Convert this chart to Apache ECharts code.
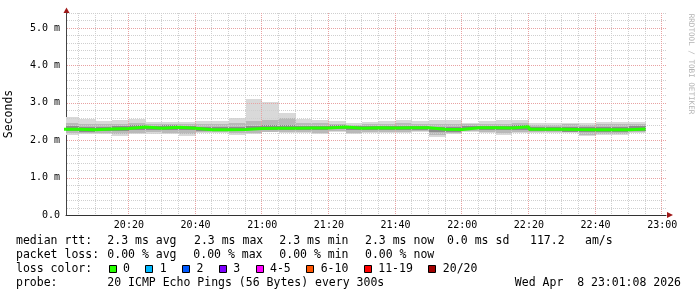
<!DOCTYPE html>
<html><head><meta charset="utf-8">
<script src="https://cdn.jsdelivr.net/npm/echarts@6/dist/echarts.min.js"></script>
<style>html,body{margin:0;padding:0;background:#fff}#c{width:697px;height:297px}</style>
</head><body><div id="c"></div>
<script>
// ---------- data ----------
const graphStart = '20:01:08';
const graphEnd = '23:01:08';
const stepMinutes = 5;
const intervalEnds = ['20:05','20:10','20:15','20:20','20:25','20:30','20:35','20:40','20:45','20:50','20:55',
  '21:00','21:05','21:10','21:15','21:20','21:25','21:30','21:35','21:40','21:45','21:50','21:55',
  '22:00','22:05','22:10','22:15','22:20','22:25','22:30','22:35','22:40','22:45','22:50','22:55'];
// values in milliseconds
const medianRtt = [2.294,2.278,2.299,2.313,2.353,2.321,2.348,2.318,2.281,2.281,2.286,2.313,2.318,2.321,2.326,2.326,2.353,2.318,2.334,2.326,2.334,2.334,2.294,2.286,2.334,2.331,2.326,2.358,2.294,2.294,2.286,2.281,2.278,2.278,2.299];
const smokeMax = [2.620,2.559,2.513,2.548,2.567,2.495,2.487,2.495,2.513,2.513,2.602,3.102,3.029,2.735,2.567,2.540,2.505,2.452,2.495,2.505,2.540,2.505,2.540,2.540,2.468,2.513,2.540,2.540,2.468,2.468,2.468,2.468,2.487,2.487,2.487];
const smokeUpMid = [2.45,2.42,2.42,2.44,2.47,2.43,2.44,2.43,2.42,2.42,2.45,2.50,2.54,2.58,2.46,2.45,2.44,2.41,2.43,2.44,2.45,2.43,2.44,2.44,2.42,2.43,2.44,2.46,2.41,2.41,2.42,2.41,2.42,2.42,2.43];
const smokeUpIn = [2.37,2.34,2.36,2.38,2.41,2.38,2.40,2.38,2.34,2.34,2.36,2.37,2.40,2.40,2.38,2.38,2.40,2.37,2.39,2.38,2.38,2.38,2.35,2.35,2.38,2.39,2.38,2.40,2.35,2.35,2.35,2.34,2.34,2.34,2.37];
const smokeLoIn = [2.24,2.22,2.25,2.25,2.28,2.27,2.28,2.26,2.24,2.24,2.24,2.26,2.27,2.27,2.27,2.27,2.30,2.26,2.28,2.27,2.28,2.28,2.22,2.23,2.29,2.27,2.26,2.28,2.25,2.25,2.22,2.21,2.21,2.21,2.25];
const smokeLoMid = [2.18,2.19,2.19,2.17,2.20,2.21,2.20,2.17,2.21,2.21,2.18,2.20,2.23,2.23,2.21,2.19,2.24,2.19,2.21,2.21,2.23,2.24,2.14,2.19,2.24,2.21,2.18,2.21,2.22,2.22,2.21,2.15,2.17,2.17,2.22];
const smokeMin = [2.139,2.158,2.158,2.120,2.158,2.174,2.166,2.120,2.184,2.184,2.139,2.158,2.211,2.200,2.184,2.158,2.211,2.158,2.184,2.184,2.200,2.219,2.094,2.166,2.219,2.184,2.139,2.184,2.200,2.200,2.184,2.112,2.139,2.139,2.200];
const xTickLabels = ['20:20','20:40','21:00','21:20','21:40','22:00','22:20','22:40','23:00'];
const yTickLabels = ['0.0','1.0 m','2.0 m','3.0 m','4.0 m','5.0 m'];
const yAxisName = 'Seconds';
const statsRtt = ['median rtt:','2.3 ms avg','2.3 ms max','2.3 ms min','2.3 ms now','0.0 ms sd','117.2','am/s'];
const statsLoss = ['packet loss:','0.00 % avg','0.00 % max','0.00 % min','0.00 % now'];
const lossTitle = 'loss color:';
const lossLabels = ['0','1','2','3','4-5','6-10','11-19','20/20'];
const lossColors = ['#26ff00','#00b8ff','#0059ff','#7e00ff','#ff00ff','#ff5500','#ff0000','#a10000'];
const probeTitle = 'probe:';
const probeText = '20 ICMP Echo Pings (56 Bytes) every 300s';
const dateText = 'Wed Apr  8 23:01:08 2026';
const sideText = 'RRDTOOL / TOBI OETIKER';

// ---------- layout / style ----------
const MONO = '"DejaVu Sans Mono", monospace';
const LEG_FONT = '11.5px ' + MONO;
const rttX = [16,107.3,194,279.3,365,447,530,585];
const lossX = [16,107.3,193.3,279.3,365];
const rowY = [241.5,255.5,269.5,283.5];

function toMin(s){const p=s.split(':').map(Number);return (p[0]-20)*60+p[1]+(p[2]||0)/60;}
const xMin = toMin(graphStart), xMax = toMin(graphEnd);
const ends = intervalEnds.map(toMin);
const starts = ends.map(e => e - stepMinutes);

const smokeLayers = [
  {lo: smokeMin, hi: smokeMax, color: '#d9d9d9'},
  {lo: smokeLoMid, hi: smokeUpMid, color: '#b9b9b9'},
  {lo: smokeLoIn, hi: smokeUpIn, color: '#8c8c8c'}
];
const smokeData = [];
smokeLayers.forEach((L, li) => ends.forEach((e, i) => smokeData.push([starts[i], e, L.lo[i], L.hi[i], li])));

const medianData = [[starts[0], medianRtt[0]]].concat(ends.map((e, i) => [e, medianRtt[i]]));

const gridData = [];
for (let m = stepMinutes; m <= xMax; m += stepMinutes) if (m > xMin) gridData.push([m, 0, m % 20 === 0 ? 1 : 0]);
for (let k = 1; k <= 27; k++) gridData.push([k / 5, 1, k % 5 === 0 ? 1 : 0]);
gridData.sort((a, b) => a[2] - b[2]);

const xLabelMap = {};
xTickLabels.forEach(l => { xLabelMap[toMin(l).toFixed(3)] = l; });

function renderSmoke(params, api){
  const cs = params.coordSys;
  const a = api.coord([api.value(0), api.value(3)]);
  const b = api.coord([api.value(1), api.value(2)]);
  const x0 = Math.max(Math.round(a[0]), Math.round(cs.x));
  const x1 = Math.round(b[0]);
  const y0 = Math.round(a[1]), y1 = Math.round(b[1]);
  return {type: 'rect', shape: {x: x0, y: y0, width: x1 - x0, height: y1 - y0},
    style: {fill: smokeLayers[api.value(4)].color}};
}
function renderGrid(params, api){
  const cs = params.coordSys;
  const v = api.value(0), o = api.value(1), major = api.value(2);
  let shape;
  if (o === 0) {
    const x = Math.round(api.coord([v, 0])[0]) - 0.5;
    shape = {x1: x, y1: cs.y, x2: x, y2: cs.y + cs.height};
  } else {
    const y = Math.round(api.coord([xMin, v])[1]) + 0.5;
    shape = {x1: cs.x + 1, y1: y, x2: cs.x + cs.width, y2: y};
  }
  return {type: 'line', shape, style: {stroke: major ? '#e8a2a2' : '#cfcfcf', lineWidth: 1, lineDash: [1, 1]}};
}

const graphics = [];
statsRtt.forEach((t, i) => graphics.push({type:'text', x: rttX[i], y: rowY[0], style:{text:t, font:LEG_FONT, fill:'#000', align:'left', verticalAlign:'middle'}}));
statsLoss.forEach((t, i) => graphics.push({type:'text', x: lossX[i], y: rowY[1], style:{text:t, font:LEG_FONT, fill:'#000', align:'left', verticalAlign:'middle'}}));
graphics.push({type:'text', x: 16, y: rowY[2], style:{text:lossTitle, font:LEG_FONT, fill:'#000', align:'left', verticalAlign:'middle'}});
let lx = 108.5;
const CH = 6.95;
lossLabels.forEach((t, i) => {
  graphics.push({type:'rect', shape:{x: Math.round(lx) + 0.5, y: 265.5, width: 7, height: 7}, style:{fill: lossColors[i], stroke:'#000', lineWidth:1}});
  graphics.push({type:'text', x: lx + 14.5, y: rowY[2], style:{text:t, font:LEG_FONT, fill:'#000', align:'left', verticalAlign:'middle'}});
  lx = lx + 14.5 + t.length * CH + 15.3;
});
graphics.push({type:'text', x: 16, y: rowY[3], style:{text:probeTitle, font:LEG_FONT, fill:'#000', align:'left', verticalAlign:'middle'}});
graphics.push({type:'text', x: 107.3, y: rowY[3], style:{text:probeText, font:LEG_FONT, fill:'#000', align:'left', verticalAlign:'middle'}});
graphics.push({type:'text', x: 681, y: rowY[3], style:{text:dateText, font:LEG_FONT, fill:'#000', align:'right', verticalAlign:'middle'}});
graphics.push({type:'text', x: 691, y: 64, rotation: -Math.PI/2, style:{text:sideText, font:'7.6px ' + MONO, fill:'#b4b4b4', align:'center', verticalAlign:'middle'}});
// axis arrows
graphics.push({type:'polygon', shape:{points:[[63.5,13],[69.5,13],[66.5,7.5]]}, style:{fill:'#a01818'}});
graphics.push({type:'polygon', shape:{points:[[667,212],[667,218],[673,215]]}, style:{fill:'#a01818'}});

const chart = echarts.init(document.getElementById('c'), null, {renderer:'canvas', width:697, height:297});
chart.setOption({
  animation: false,
  backgroundColor: '#fff',
  grid: {left: 66, right: 31, top: 13, bottom: 82, containLabel: false, outerBoundsMode: 'none'},
  xAxis: {
    type: 'value', min: xMin, max: xMax,
    axisLine: {show: true, onZero: false, lineStyle: {color: '#333', width: 1}},
    axisTick: {show: false},
    splitLine: {show: false},
    axisLabel: {
      customValues: xTickLabels.map(toMin),
      formatter: v => xLabelMap[Number(v).toFixed(3)] || '',
      fontFamily: MONO, fontSize: 10, color: '#000', margin: 5,
      showMinLabel: true, showMaxLabel: true
    }
  },
  yAxis: {
    type: 'value', min: 0, max: 5.4, interval: 1,
    name: yAxisName, nameLocation: 'middle', nameRotate: 90, nameGap: 51,
    nameTextStyle: {fontFamily: MONO, fontSize: 11.5, color: '#000'},
    axisLine: {show: true, onZero: false, lineStyle: {color: '#444', width: 1}},
    axisTick: {show: false},
    splitLine: {show: false},
    axisLabel: {
      formatter: v => (Math.abs(v - Math.round(v)) < 1e-9 ? yTickLabels[Math.round(v)] : ''),
      fontFamily: MONO, fontSize: 10, color: '#000', margin: 6, showMaxLabel: false
    }
  },
  series: [
    {type: 'custom', name: 'smoke', data: smokeData, renderItem: renderSmoke, clip: true, z: 1, silent: true,
      encode: {x: [0, 1], y: [2, 3]}},
    {type: 'custom', name: 'grid', data: gridData, renderItem: renderGrid, z: 2, silent: true,
      encode: {x: 0}},
    {type: 'line', name: 'median rtt', data: medianData, step: 'start', symbol: 'none', clip: true, z: 3,
      lineStyle: {color: '#26ff00', width: 3}}
  ],
  graphic: graphics
});
</script></body></html>
